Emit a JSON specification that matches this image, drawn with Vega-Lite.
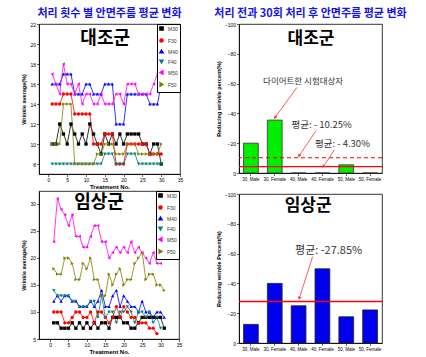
{
  "$schema": "https://vega.github.io/schema/vega-lite/v6.json",
  "padding": {"left": 21, "top": 7, "right": 0, "bottom": 0},
  "background": "white",
  "config": {
    "view": {"stroke": "#000", "strokeWidth": 0.8},
    "font": "Liberation Sans",
    "axis": {"grid": false, "domainColor": "#000", "tickColor": "#000", "labelColor": "#000", "titleColor": "#000", "labelFontSize": 5, "titleFontSize": 5.5, "titleFontWeight": "bold", "tickSize": 2.5, "labelPadding": 1, "domainWidth": 0.8, "tickWidth": 0.6, "labelOverlap": false, "labelFlush": false},
    "title": {"font": "Noto Sans CJK KR", "fontSize": 11, "fontWeight": "bold", "color": "#1414e6", "offset": 3},
    "legend": {"orient": "top-right", "offset": 0, "padding": 2, "strokeColor": "#000", "fillColor": "#fff", "labelFontSize": 5, "symbolSize": 10, "rowPadding": 1, "title": null, "labelColor": "#333"}
  },
  "resolve": {"scale": {"color": "independent", "shape": "independent"}, "legend": {"color": "independent", "shape": "independent"}},
  "datasets": {
    "ctrl": [
      {"t":1,"M30":10,"F30":14,"M40":16,"F40":8,"M50":17,"F50":10},
      {"t":2,"M30":10,"F30":14,"M40":16,"F40":8,"M50":16,"F50":10},
      {"t":3,"M30":12,"F30":14,"M40":16,"F40":8,"M50":15,"F50":10},
      {"t":4,"M30":11,"F30":15,"M40":17,"F40":8,"M50":18,"F50":14},
      {"t":5,"M30":10,"F30":15,"M40":17,"F40":8,"M50":16,"F50":14},
      {"t":6,"M30":12,"F30":15,"M40":17,"F40":8,"M50":16,"F50":14},
      {"t":7,"M30":11,"F30":13,"M40":15,"F40":8,"M50":15,"F50":8},
      {"t":8,"M30":10,"F30":13,"M40":15,"F40":8,"M50":16,"F50":8},
      {"t":9,"M30":11,"F30":13,"M40":15,"F40":8,"M50":14,"F50":8},
      {"t":10,"M30":10,"F30":13,"M40":16,"F40":8,"M50":15,"F50":8},
      {"t":11,"M30":12,"F30":13,"M40":16,"F40":8,"M50":15,"F50":8},
      {"t":12,"M30":11,"F30":10,"M40":15,"F40":8,"M50":14,"F50":8},
      {"t":13,"M30":10,"F30":10,"M40":15,"F40":8,"M50":14,"F50":9},
      {"t":14,"M30":9,"F30":10,"M40":15,"F40":8,"M50":15,"F50":9},
      {"t":15,"M30":11,"F30":11,"M40":16,"F40":9,"M50":14,"F50":10},
      {"t":16,"M30":10,"F30":11,"M40":16,"F40":9,"M50":14,"F50":10},
      {"t":17,"M30":11,"F30":11,"M40":16,"F40":9,"M50":14,"F50":10},
      {"t":18,"M30":10,"F30":8,"M40":12,"F40":8,"M50":15,"F50":9},
      {"t":19,"M30":11,"F30":8,"M40":12,"F40":8,"M50":15,"F50":9},
      {"t":20,"M30":10,"F30":8,"M40":12,"F40":8,"M50":14,"F50":9},
      {"t":21,"M30":11,"F30":10,"M40":15,"F40":9,"M50":16,"F50":10},
      {"t":22,"M30":11,"F30":10,"M40":15,"F40":9,"M50":16,"F50":10},
      {"t":23,"M30":11,"F30":10,"M40":15,"F40":9,"M50":16,"F50":10},
      {"t":24,"M30":11,"F30":10,"M40":15,"F40":8,"M50":15,"F50":9},
      {"t":25,"M30":10,"F30":10,"M40":15,"F40":8,"M50":15,"F50":9},
      {"t":26,"M30":10,"F30":10,"M40":15,"F40":8,"M50":15,"F50":9},
      {"t":27,"M30":9,"F30":9,"M40":14,"F40":8,"M50":15,"F50":9},
      {"t":28,"M30":10,"F30":9,"M40":14,"F40":8,"M50":16,"F50":9},
      {"t":29,"M30":10,"F30":9,"M40":14,"F40":8,"M50":17,"F50":9},
      {"t":30,"M30":8,"F30":9,"M40":16,"F40":8,"M50":16,"F50":10},
      {"t":31,"M50":16}
    ],
    "clin": [
      {"t":1,"M30":8,"F30":10,"M40":12,"F40":14,"M50":23,"F50":18},
      {"t":2,"M30":8,"F30":10,"M40":13,"F40":13,"M50":31,"F50":17},
      {"t":3,"M30":7,"F30":10,"M40":12,"F40":13,"M50":29,"F50":17},
      {"t":4,"M30":7,"F30":8,"M40":13,"F40":13,"M50":28,"F50":20},
      {"t":5,"M30":7,"F30":8,"M40":13,"F40":13,"M50":26,"F50":20},
      {"t":6,"M30":8,"F30":9,"M40":12,"F40":12,"M50":28,"F50":19},
      {"t":7,"M30":7,"F30":10,"M40":12,"F40":12,"M50":24,"F50":16},
      {"t":8,"M30":8,"F30":10,"M40":11,"F40":11,"M50":24,"F50":16},
      {"t":9,"M30":7,"F30":9,"M40":11,"F40":11,"M50":22,"F50":19},
      {"t":10,"M30":8,"F30":9,"M40":11,"F40":11,"M50":22,"F50":18},
      {"t":11,"M30":7,"F30":10,"M40":12,"F40":12,"M50":24,"F50":20},
      {"t":12,"M30":8,"F30":8,"M40":11,"F40":12,"M50":26,"F50":16},
      {"t":13,"M30":7,"F30":10,"M40":12,"F40":9,"M50":26,"F50":16},
      {"t":14,"M30":8,"F30":10,"M40":14,"F40":13,"M50":23,"F50":13},
      {"t":15,"M30":8,"F30":9,"M40":11,"F40":9,"M50":23,"F50":13},
      {"t":16,"M30":7,"F30":8,"M40":11,"F40":10,"M50":20,"F50":17},
      {"t":17,"M30":9,"F30":9,"M40":13,"F40":10,"M50":21,"F50":15},
      {"t":18,"M30":9,"F30":11,"M40":14,"F40":8,"M50":22,"F50":17},
      {"t":19,"M30":9,"F30":9,"M40":11,"F40":10,"M50":21,"F50":18},
      {"t":20,"M30":8,"F30":11,"M40":13,"F40":10,"M50":22,"F50":15},
      {"t":21,"M30":8,"F30":10,"M40":12,"F40":11,"M50":21,"F50":16},
      {"t":22,"M30":7,"F30":9,"M40":11,"F40":10,"M50":23,"F50":16},
      {"t":23,"M30":7,"F30":9,"M40":11,"F40":8,"M50":21,"F50":19},
      {"t":24,"M30":8,"F30":8,"M40":10,"F40":10,"M50":22,"F50":20},
      {"t":25,"M30":9,"F30":8,"M40":12,"F40":10,"M50":21,"F50":21},
      {"t":26,"M30":9,"F30":8,"M40":10,"F40":9,"M50":20,"F50":16},
      {"t":27,"M30":9,"F30":7,"M40":10,"F40":10,"M50":19,"F50":17},
      {"t":28,"M30":9,"F30":7,"M40":9,"F40":8,"M50":21,"F50":17},
      {"t":29,"M30":9,"F30":6,"M40":10,"F40":9,"M50":19,"F50":15},
      {"t":30,"M30":9,"M40":10,"F40":7,"M50":19,"F50":15},
      {"t":31,"M30":7,"M40":9,"F50":14}
    ],
    "ctrlbar": [
      {"cat":"30, Male","val":-20},
      {"cat":"30, Female","val":-35.5},
      {"cat":"40, Male","val":0},
      {"cat":"40, Female","val":0},
      {"cat":"50, Male","val":-5.5},
      {"cat":"50, Female","val":0}
    ],
    "clinbar": [
      {"cat":"30, Male","val":-12.5},
      {"cat":"30, Female","val":-40},
      {"cat":"40, Male","val":-25},
      {"cat":"40, Female","val":-49.8},
      {"cat":"50, Male","val":-17.6},
      {"cat":"50, Female","val":-22.2}
    ],
    "one": [{}]
  },
  "spacing": 29,
  "hconcat": [
    {
      "spacing": 17,
      "bounds": "flush",
      "resolve": {"scale": {"color": "independent", "shape": "independent"}, "legend": {"color": "independent", "shape": "independent"}},
      "vconcat": [
        {
          "width": 141, "height": 150,
          "title": {"text": "처리 횟수 별 안면주름 평균 변화"},
          "layer": [
            {
              "data": {"name": "ctrl"},
              "transform": [{"fold": ["M30","F30","M40","F40","M50","F50"], "as": ["s","v"]}, {"filter": {"field": "v", "valid": true}}],
              "layer": [
                {"mark": {"type": "line", "strokeWidth": 0.8},
                 "encoding": {
                   "x": {"field": "t", "type": "quantitative", "scale": {"domain": [-2.5, 35], "nice": false, "zero": false}, "axis": {"values": [0,5,10,15,20,25,30,35], "tickCount": 40, "format": "d", "title": "Treatment No.", "titleFontSize": 6, "titlePadding": 1}},
                   "y": {"field": "v", "type": "quantitative", "scale": {"domain": [7, 22], "nice": false, "zero": false}, "axis": {"values": [8,10,12,14,16,18,20,22], "tickCount": 40, "format": "d", "title": "Wrinkle average(%)", "titlePadding": 3}},
                   "color": {"field": "s", "type": "nominal", "scale": {"domain": ["M30","F30","M40","F40","M50","F50"], "range": ["#000000","#ff0000","#0000ff","#008080","#ff00ff","#808000"]}}
                 }},
                {"mark": {"type": "point", "filled": true, "size": 11, "opacity": 1},
                 "encoding": {
                   "x": {"field": "t", "type": "quantitative"},
                   "y": {"field": "v", "type": "quantitative"},
                   "color": {"field": "s", "type": "nominal"},
                   "shape": {"field": "s", "type": "nominal", "scale": {"domain": ["M30","F30","M40","F40","M50","F50"], "range": ["square","circle","triangle-up","triangle-down","triangle-left","triangle-right"]}}
                 }}
              ]
            },
            {
              "data": {"values": [{"label": "대조군"}]},
              "mark": {"type": "text", "font": "Noto Sans CJK KR", "fontSize": 18, "fontWeight": "bold", "color": "#000", "baseline": "middle"},
              "encoding": {"x": {"datum": 15.1}, "y": {"datum": 20.5}, "text": {"field": "label"}}
            }
          ]
        },
        {
          "width": 140, "height": 148,
          "layer": [
            {
              "data": {"name": "clin"},
              "transform": [{"fold": ["M30","F30","M40","F40","M50","F50"], "as": ["s","v"]}, {"filter": {"field": "v", "valid": true}}],
              "layer": [
                {"mark": {"type": "line", "strokeWidth": 0.8},
                 "encoding": {
                   "x": {"field": "t", "type": "quantitative", "scale": {"domain": [-3, 35], "nice": false, "zero": false}, "axis": {"values": [0,5,10,15,20,25,30,35], "tickCount": 40, "format": "d", "title": "Treatment No.", "titleFontSize": 6, "titlePadding": 1}},
                   "y": {"field": "v", "type": "quantitative", "scale": {"domain": [5, 32.4], "nice": false, "zero": false}, "axis": {"values": [5,10,15,20,25,30], "tickCount": 40, "format": "d", "title": "Wrinkle average(%)", "titlePadding": 3}},
                   "color": {"field": "s", "type": "nominal", "scale": {"domain": ["M30","F30","M40","F40","M50","F50"], "range": ["#000000","#ff0000","#0000ff","#008080","#ff00ff","#808000"]}}
                 }},
                {"mark": {"type": "point", "filled": true, "size": 11, "opacity": 1},
                 "encoding": {
                   "x": {"field": "t", "type": "quantitative"},
                   "y": {"field": "v", "type": "quantitative"},
                   "color": {"field": "s", "type": "nominal"},
                   "shape": {"field": "s", "type": "nominal", "scale": {"domain": ["M30","F30","M40","F40","M50","F50"], "range": ["square","circle","triangle-up","triangle-down","triangle-left","triangle-right"]}}
                 }}
              ]
            },
            {
              "data": {"values": [{"label": "임상군"}]},
              "mark": {"type": "text", "font": "Noto Sans CJK KR", "fontSize": 18, "fontWeight": "bold", "color": "#000", "baseline": "middle"},
              "encoding": {"x": {"datum": 13.3}, "y": {"datum": 30.2}, "text": {"field": "label"}}
            }
          ]
        }
      ]
    },
    {
      "spacing": 21,
      "bounds": "flush",
      "vconcat": [
        {
          "width": 143, "height": 149,
          "title": {"text": "처리 전과 30회 처리 후 안면주름 평균 변화"},
          "resolve": {"scale": {"x": "independent"}},
          "layer": [
            {
              "data": {"name": "ctrlbar"},
              "mark": {"type": "bar", "fill": "#00ee00", "stroke": "#333", "strokeWidth": 0.8},
              "encoding": {
                "x": {"field": "cat", "type": "nominal", "sort": null, "scale": {"paddingInner": 0.38, "paddingOuter": 0.19}, "axis": {"title": null, "labelAngle": 0, "labelFontSize": 4.5}},
                "y": {"field": "val", "type": "quantitative", "scale": {"domain": [-100, 0], "reverse": true, "nice": false}, "axis": {"values": [-100,-80,-60,-40,-20,0], "tickCount": 40, "format": "d", "title": "Reducing wrinkle percent(%)", "titlePadding": 3}}
              }
            },
            {"data": {"name": "one"}, "mark": {"type": "rule", "color": "#ff0000", "strokeWidth": 1.2, "strokeDash": [4, 3]}, "encoding": {"y": {"datum": -10.25}}},
            {"data": {"name": "one"}, "mark": {"type": "rule", "color": "#ff0000", "strokeWidth": 1.2}, "encoding": {"y": {"datum": -4.3}}},
            {"data": {"values": [{"label": "대조군"}]},
             "mark": {"type": "text", "font": "Noto Sans CJK KR", "fontSize": 17, "fontWeight": "bold", "color": "#000", "baseline": "middle"},
             "encoding": {"x": {"datum": 3.02, "type": "quantitative", "scale": {"domain": [0, 6]}, "axis": null}, "y": {"datum": -89.9}, "text": {"field": "label"}}},
            {"data": {"values": [{"label": "다이어트한 시험대상자"}]},
             "mark": {"type": "text", "font": "Noto Sans CJK KR", "fontSize": 8.5, "color": "#333", "baseline": "middle"},
             "encoding": {"x": {"datum": 2.69, "type": "quantitative", "scale": {"domain": [0, 6]}, "axis": null}, "y": {"datum": -61.5}, "text": {"field": "label"}}},
            {"data": {"values": [{"label": "평균: - 10.25%"}]},
             "mark": {"type": "text", "font": "Noto Sans CJK KR", "fontSize": 9.5, "color": "#333", "baseline": "middle"},
             "encoding": {"x": {"datum": 3.47, "type": "quantitative", "scale": {"domain": [0, 6]}, "axis": null}, "y": {"datum": -32.4}, "text": {"field": "label"}}},
            {"data": {"values": [{"label": "평균: - 4.30%"}]},
             "mark": {"type": "text", "font": "Noto Sans CJK KR", "fontSize": 9.5, "color": "#333", "baseline": "middle"},
             "encoding": {"x": {"datum": 4.34, "type": "quantitative", "scale": {"domain": [0, 6]}, "axis": null}, "y": {"datum": -19.6}, "text": {"field": "label"}}},
            {"data": {"name": "one"}, "mark": {"type": "rule", "color": "#ff3030", "strokeWidth": 0.8},
             "encoding": {"x": {"datum": 2.43, "type": "quantitative", "scale": {"domain": [0, 6]}, "axis": null}, "x2": {"datum": 1.51}, "y": {"datum": -57.4}, "y2": {"datum": -37.2}}},
            {"data": {"name": "one"}, "mark": {"type": "point", "shape": "triangle-up", "filled": true, "size": 14, "color": "#ff3030", "opacity": 1, "angle": 216},
             "encoding": {"x": {"datum": 1.51, "type": "quantitative", "scale": {"domain": [0, 6]}, "axis": null}, "y": {"datum": -37.2}}},
            {"data": {"name": "one"}, "mark": {"type": "rule", "color": "#ff3030", "strokeWidth": 0.8},
             "encoding": {"x": {"datum": 3.23, "type": "quantitative", "scale": {"domain": [0, 6]}, "axis": null}, "x2": {"datum": 2.52}, "y": {"datum": -28.4}, "y2": {"datum": -11.5}}},
            {"data": {"name": "one"}, "mark": {"type": "point", "shape": "triangle-up", "filled": true, "size": 14, "color": "#ff3030", "opacity": 1, "angle": 214},
             "encoding": {"x": {"datum": 2.52, "type": "quantitative", "scale": {"domain": [0, 6]}, "axis": null}, "y": {"datum": -11.5}}},
            {"data": {"name": "one"}, "mark": {"type": "rule", "color": "#ff3030", "strokeWidth": 0.8},
             "encoding": {"x": {"datum": 4.0, "type": "quantitative", "scale": {"domain": [0, 6]}, "axis": null}, "x2": {"datum": 3.54}, "y": {"datum": -15.5}, "y2": {"datum": -4.3}}},
            {"data": {"name": "one"}, "mark": {"type": "point", "shape": "triangle-up", "filled": true, "size": 14, "color": "#ff3030", "opacity": 1, "angle": 213},
             "encoding": {"x": {"datum": 3.54, "type": "quantitative", "scale": {"domain": [0, 6]}, "axis": null}, "y": {"datum": -4.3}}}
          ]
        },
        {
          "width": 143, "height": 149,
          "resolve": {"scale": {"x": "independent"}},
          "layer": [
            {
              "data": {"name": "clinbar"},
              "mark": {"type": "bar", "fill": "#0000ee", "stroke": "#222", "strokeWidth": 0.8},
              "encoding": {
                "x": {"field": "cat", "type": "nominal", "sort": null, "scale": {"paddingInner": 0.38, "paddingOuter": 0.19}, "axis": {"title": null, "labelAngle": 0, "labelFontSize": 4.5}},
                "y": {"field": "val", "type": "quantitative", "scale": {"domain": [-100, 0], "reverse": true, "nice": false}, "axis": {"values": [-100,-80,-60,-40,-20,0], "tickCount": 40, "format": "d", "title": "Reducing wrinkle Percent(%)", "titlePadding": 3}}
              }
            },
            {"data": {"name": "one"}, "mark": {"type": "rule", "color": "#ff0000", "strokeWidth": 1.5}, "encoding": {"y": {"datum": -27.85}}},
            {"data": {"values": [{"label": "임상군"}]},
             "mark": {"type": "text", "font": "Noto Sans CJK KR", "fontSize": 17, "fontWeight": "bold", "color": "#000", "baseline": "middle"},
             "encoding": {"x": {"datum": 2.9, "type": "quantitative", "scale": {"domain": [0, 6]}, "axis": null}, "y": {"datum": -92}, "text": {"field": "label"}}},
            {"data": {"values": [{"label": "평균: -27.85%"}]},
             "mark": {"type": "text", "font": "Noto Sans CJK KR", "fontSize": 11, "color": "#333", "baseline": "middle"},
             "encoding": {"x": {"datum": 3.76, "type": "quantitative", "scale": {"domain": [0, 6]}, "axis": null}, "y": {"datum": -61.5}, "text": {"field": "label"}}},
            {"data": {"name": "one"}, "mark": {"type": "rule", "color": "#ff3030", "strokeWidth": 0.8},
             "encoding": {"x": {"datum": 3.09, "type": "quantitative", "scale": {"domain": [0, 6]}, "axis": null}, "x2": {"datum": 2.53}, "y": {"datum": -58}, "y2": {"datum": -30}}},
            {"data": {"name": "one"}, "mark": {"type": "point", "shape": "triangle-up", "filled": true, "size": 14, "color": "#ff3030", "opacity": 1, "angle": 198},
             "encoding": {"x": {"datum": 2.53, "type": "quantitative", "scale": {"domain": [0, 6]}, "axis": null}, "y": {"datum": -30}}}
          ]
        }
      ]
    }
  ]
}
